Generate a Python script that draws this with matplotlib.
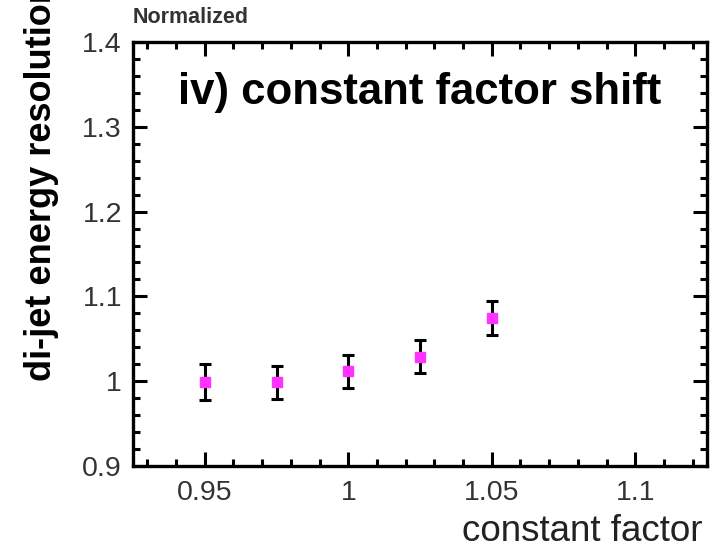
#!/usr/bin/env python

import matplotlib
matplotlib.use("Agg")
import matplotlib.pyplot as plt
from matplotlib.ticker import MultipleLocator

# values
factors = [0.95, 0.975, 1.0, 1.025, 1.05]
resolution = [0.999, 0.999, 1.012, 1.029, 1.075]
errors = [0.021, 0.0195, 0.0195, 0.0195, 0.020]

x_ticks = [0.95, 1.0, 1.05, 1.1]
x_tick_labels = ["0.95", "1", "1.05", "1.1"]
y_ticks = [0.9, 1.0, 1.1, 1.2, 1.3, 1.4]
y_tick_labels = ["0.9", "1", "1.1", "1.2", "1.3", "1.4"]

plt.rcParams["font.family"] = ["Liberation Sans", "DejaVu Sans"]


def make_plot(path="out.png"):
    """ROOT-like normalized resolution plot"""
    fig = plt.figure(figsize=(7.16, 5.5), dpi=100)
    ax = fig.add_axes([0.1858, 0.1527, 0.8016, 0.7709])

    ax.errorbar(factors, resolution, yerr=errors, fmt="s", color="#ff33ff",
                markersize=7.5, ecolor="black", elinewidth=2.2, capsize=4,
                capthick=2.2, zorder=3)

    ax.set_xlim(0.925, 1.125)
    ax.set_ylim(0.9, 1.4)
    ax.set_xticks(x_ticks)
    ax.set_xticklabels(x_tick_labels)
    ax.set_yticks(y_ticks)
    ax.set_yticklabels(y_tick_labels)
    ax.xaxis.set_minor_locator(MultipleLocator(0.01))
    ax.yaxis.set_minor_locator(MultipleLocator(0.02))

    ax.tick_params(which="both", direction="in", top=True, right=True,
                   width=2.2, colors="black", labelcolor="#333333",
                   labelsize=20.5)
    ax.tick_params(which="major", length=10)
    ax.tick_params(which="minor", length=5)
    ax.tick_params(axis="x", pad=10)
    ax.tick_params(axis="y", pad=8)
    for s in ax.spines.values():
        s.set_linewidth(2.4)

    ax.text(0.5, 0.88, "iv) constant factor shift", transform=ax.transAxes,
            ha="center", va="center", fontsize=31.5, fontweight="bold")

    fig.text(133 / 716, 1 - 23 / 550, "Normalized", ha="left",
             va="baseline", fontsize=15.5, fontweight="bold", color="#333333")
    fig.text(703 / 716, 1 - 541 / 550, "constant factor", ha="right",
             va="baseline", fontsize=26.5, color="#222222")
    fig.text(42 / 716, 1 - 381 / 550, "di-jet energy resolution",
             rotation=90, ha="center", va="bottom", fontsize=26,
             fontweight="bold")

    fig.savefig(path, dpi=100)


def main():
    make_plot()


if __name__ == "__main__":
    main()
